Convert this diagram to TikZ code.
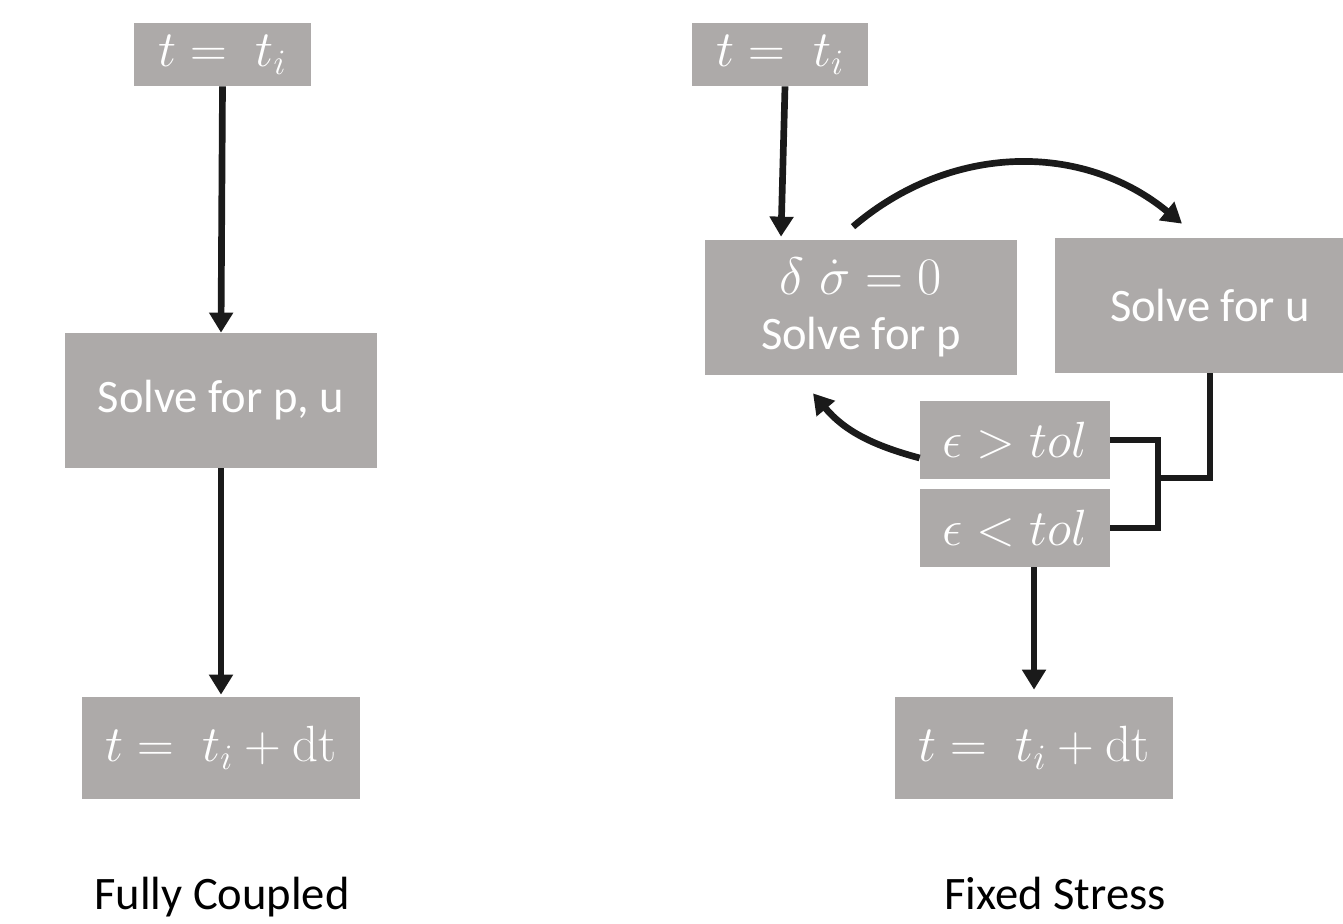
\RequirePackage{fix-cm}
\documentclass[tikz,border=0pt]{standalone}
\usepackage{amsmath}
\usepackage{amssymb}
\usepackage[no-math]{fontspec}
\setmainfont{Carlito}
\usepackage{tikz}
\usetikzlibrary{arrows.meta}
\definecolor{boxgray}{RGB}{173,170,169}
\definecolor{inkblack}{RGB}{26,26,26}

\begin{document}
\begin{tikzpicture}[x=0.2mm,y=-0.2mm,
	blk/.style={fill=boxgray,text=white,inner sep=0pt,align=center,font=\fontsize{26.5}{30}\selectfont},
	mth/.style={blk,font=\fontsize{29}{33}\selectfont},
	captxt/.style={anchor=base,font=\fontsize{26.5}{30}\selectfont},
	lnk/.style={draw=inkblack,line width=3.8pt},
	arr/.style={lnk,-{Triangle[width=4.6mm,length=4mm]}}]
	\useasboundingbox (0,0) rectangle (1343,923);
	% fully coupled
	\node[mth,minimum width=35.4mm,minimum height=12.6mm] (ti1) at (222.5,54.5) {$t =\; t_i$};
	\node[blk,minimum width=62.4mm,minimum height=27mm] (sol1) at (221,400.5) {Solve for p, u};
	\node[mth,minimum width=55.6mm,minimum height=20.4mm] (tn1) at (221,748) {$t =\; t_i + \mathrm{dt}$};
	\node[captxt] (fc) at (222,909) {Fully Coupled};
	\draw[arr] (ti1.south) -- (sol1.north);
	\draw[arr] (sol1.south) -- ([yshift=0.4mm]tn1.north);
	% fixed stress
	\node[mth,minimum width=35.2mm,minimum height=12.6mm] (ti2) at (780,54.5) {$t =\; t_i$};
	\node[blk,minimum width=62.4mm,minimum height=27mm] (sp) at (861,307.5) {{\fontsize{30}{34}\selectfont$\delta\;\dot{\sigma} = 0$}\\[0.6mm]Solve for p};
	\node[blk,minimum width=62mm,minimum height=27mm] (su) at (1210,305.5) {Solve for u};
	\node[mth,minimum width=38mm,minimum height=15.6mm] (eg) at (1015,440) {$\epsilon > tol$};
	\node[mth,minimum width=38mm,minimum height=15.6mm] (el) at (1015,528) {$\epsilon < tol$};
	\node[mth,minimum width=55.6mm,minimum height=20.4mm] (tn2) at (1034,748) {$t =\; t_i + \mathrm{dt}$};
	\node[captxt] (fs) at (1055,909) {Fixed Stress};
	\coordinate (jn) at (1158,478);
	\draw[arr] ([xshift=1mm]ti2.south) -- ([xshift=-16mm,yshift=0.6mm]sp.north);
	\draw[arr] ([xshift=-1.6mm,yshift=2.6mm]sp.north) to[bend left=40] ([xshift=-5.6mm,yshift=2.8mm]su.north);
	\draw[arr] ([yshift=-3.6mm]eg.west) to[out=165,in=-50] ([xshift=-9.6mm,yshift=-3.6mm]sp.south);
	\draw[lnk] (eg.east) -| (jn) |- (el.east);
	\draw[lnk] (su.south) |- (jn);
	\draw[arr] (tn2.north |- el.south) -- ([yshift=1.4mm]tn2.north);
\end{tikzpicture}
\end{document}
